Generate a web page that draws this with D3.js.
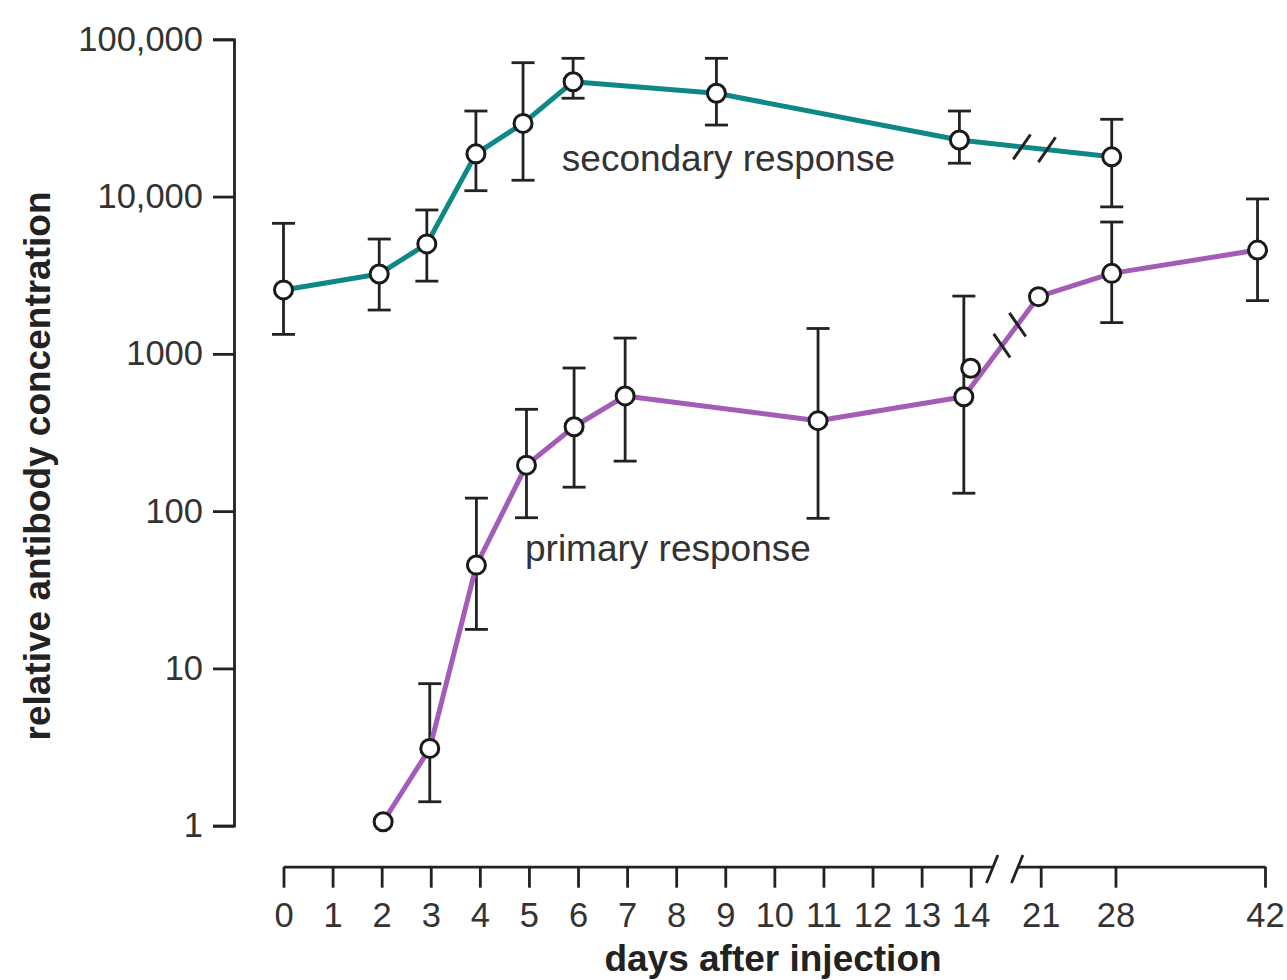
<!DOCTYPE html>
<html><head><meta charset="utf-8">
<script src="https://cdn.jsdelivr.net/npm/d3@7"></script>
<style>
body{margin:0;background:#fff}
svg{display:block}
text{font-family:"Liberation Sans",Arial,Helvetica,sans-serif}
</style>
</head><body>
<svg id="chart" width="1287" height="980"></svg>
<script>
// ---------------- data ----------------
const yTickValues = [1, 10, 100, 1000, 10000, 100000];
const yTickLabels = ["1", "10", "100", "1000", "10,000", "100,000"];
const xTicksEarly = [0,1,2,3,4,5,6,7,8,9,10,11,12,13,14];
const xTicksLate  = [21, 28, 42];

const secondaryDays   = [0, 1.95, 2.92, 3.92, 4.88, 5.9, 8.82, 13.77, 27.65];
const secondaryValues = [2550, 3220, 5000, 18700, 29200, 53700, 45400, 22900, 17900];
const secondaryHigh   = [6760, 5370, 8220, 35000, 71000, 75700, 75700, 35000, 31000];
const secondaryLow    = [1330, 1900, 2900, 10900, 12700, 42200, 28500, 16300, 8600];

const primaryDays   = [2.03, 2.98, 3.93, 4.95, 5.92, 6.96, 10.89, 13.86, 20.78, 27.65, 41.3];
const primaryValues = [1.06, 3.1, 45.4, 196, 344, 540, 376, 534, 2310, 3250, 4570];
const primaryHigh   = [null, 8.0, 121, 444, 813, 1260, 1450, 2330, null, 6890, 9660];
const primaryLow    = [null, 1.42, 17.7, 90.8, 142, 208, 90, 130, null, 1580, 2180];

const primaryExtraDays   = [14.0];
const primaryExtraValues = [810];

const labelTexts  = ["secondary response", "primary response"];
const labelDays   = [5.67, 4.92];
const labelValues = [14550, 48.2];

// ---------------- setup ----------------
const TEAL = "#0e8787", PURPLE = "#a35cb7", INK = "#222", TXT = "#333";
const svg = d3.select("#chart");

const x = d3.scaleLinear().domain([0, 14, 21, 42]).range([283.5, 970.7, 1040.7, 1265]);
const y = d3.scaleLog().domain([1, 100000]).range([825.7, 39.3]);

// ---------------- y axis ----------------
const yAxis = d3.axisLeft(y).tickValues(yTickValues)
  .tickFormat((d, i) => yTickLabels[i]).tickSize(21).tickPadding(10);
const gy = svg.append("g").attr("transform", "translate(234,0)").call(yAxis);

// ---------------- x axis (broken) ----------------
const axisY = 866.7;
const seg1End = x(14) + 21.5, seg2Start = x(21) - 23.5;
const x1 = d3.scaleLinear().domain([0, 14]).range([x(0), x(14)]);
x1.domain([0, x1.invert(seg1End)]).range([x(0), seg1End]);
const x2 = d3.scaleLinear().domain([21, 42]).range([x(21), x(42)]);
x2.domain([x2.invert(seg2Start), 42]).range([seg2Start, x(42)]);

const gx1 = svg.append("g").attr("transform", `translate(0,${axisY})`)
  .call(d3.axisBottom(x1).tickValues(xTicksEarly).tickSizeInner(21).tickSizeOuter(0).tickPadding(15));
const gx2 = svg.append("g").attr("transform", `translate(0,${axisY})`)
  .call(d3.axisBottom(x2).tickValues(xTicksLate).tickSizeInner(21).tickSizeOuter(0).tickPadding(15));

[gy, gx1, gx2].forEach(g => {
  g.selectAll(".domain").attr("stroke", INK).attr("stroke-width", 2.8);
  g.selectAll(".tick line").attr("stroke", INK).attr("stroke-width", 2.8);
  g.selectAll(".tick text").attr("fill", TXT).style("font-size", "34.5px")
    .style("font-family", '"Liberation Sans",Arial,sans-serif');
});

// axis break marks
svg.append("g").selectAll("line").data([seg1End, seg2Start]).join("line")
  .attr("x1", d => d - 5.7).attr("y1", axisY + 16.3)
  .attr("x2", d => d + 5.7).attr("y2", axisY - 11.7)
  .attr("stroke", INK).attr("stroke-width", 2.8);

// ---------------- helpers ----------------
function series(days, vals, hi, lo) {
  return days.map((d, i) => ({ d, v: vals[i], hi: hi ? hi[i] : null, lo: lo ? lo[i] : null }));
}
const sec = series(secondaryDays, secondaryValues, secondaryHigh, secondaryLow);
const pri = series(primaryDays, primaryValues, primaryHigh, primaryLow);
const extra = series(primaryExtraDays, primaryExtraValues);

function errorBars(data) {
  const g = svg.append("g").attr("stroke", INK).attr("stroke-width", 2.8).attr("fill", "none");
  const eb = data.filter(p => p.hi != null);
  g.selectAll(".v").data(eb).join("line")
    .attr("x1", p => x(p.d)).attr("x2", p => x(p.d))
    .attr("y1", p => y(p.hi)).attr("y2", p => y(p.lo));
  g.selectAll(".t").data(eb.flatMap(p => [[p.d, p.hi], [p.d, p.lo]])).join("line")
    .attr("x1", c => x(c[0]) - 11.5).attr("x2", c => x(c[0]) + 11.5)
    .attr("y1", c => y(c[1])).attr("y2", c => y(c[1]));
}
errorBars(sec);
errorBars(pri);

const lineGen = d3.line().x(p => x(p.d)).y(p => y(p.v));
svg.append("path").datum(sec).attr("d", lineGen)
  .attr("fill", "none").attr("stroke", TEAL).attr("stroke-width", 5).attr("stroke-linejoin", "round");
svg.append("path").datum(pri).attr("d", lineGen)
  .attr("fill", "none").attr("stroke", PURPLE).attr("stroke-width", 5).attr("stroke-linejoin", "round");

// break marks on the data lines (fractions along a segment)
function lineBreak(a, b, ts, dx, dy) {
  const ax = x(a.d), ay = y(a.v), bx = x(b.d), by = y(b.v);
  svg.append("g").selectAll("line").data(ts).join("line")
    .attr("x1", t => ax + (bx - ax) * t - dx).attr("y1", t => ay + (by - ay) * t - dy)
    .attr("x2", t => ax + (bx - ax) * t + dx).attr("y2", t => ay + (by - ay) * t + dy)
    .attr("stroke", INK).attr("stroke-width", 3);
}
lineBreak(sec[7], sec[8], [0.41, 0.575], 8.6, -12.4);
lineBreak(pri[7], pri[8], [0.51, 0.72], -8.2, -11.8);

// circles
svg.append("g").selectAll("circle").data(sec.concat(pri, extra)).join("circle")
  .attr("cx", p => x(p.d)).attr("cy", p => y(p.v)).attr("r", 9)
  .attr("fill", "#fff").attr("stroke", "#1a1a1a").attr("stroke-width", 3);

// series labels
svg.append("g").selectAll("text").data(labelTexts).join("text")
  .attr("x", (t, i) => x(labelDays[i])).attr("y", (t, i) => y(labelValues[i]))
  .attr("fill", TXT).style("font-size", "37px").text(t => t);

// axis titles
svg.append("text").attr("transform", "translate(50,466) rotate(-90)")
  .attr("text-anchor", "middle").attr("fill", INK)
  .style("font-size", "37px").style("font-weight", "bold")
  .text("relative antibody concentration");
svg.append("text").attr("x", 773).attr("y", 971)
  .attr("text-anchor", "middle").attr("fill", INK)
  .style("font-size", "37px").style("font-weight", "bold")
  .text("days after injection");
</script>
</body></html>
